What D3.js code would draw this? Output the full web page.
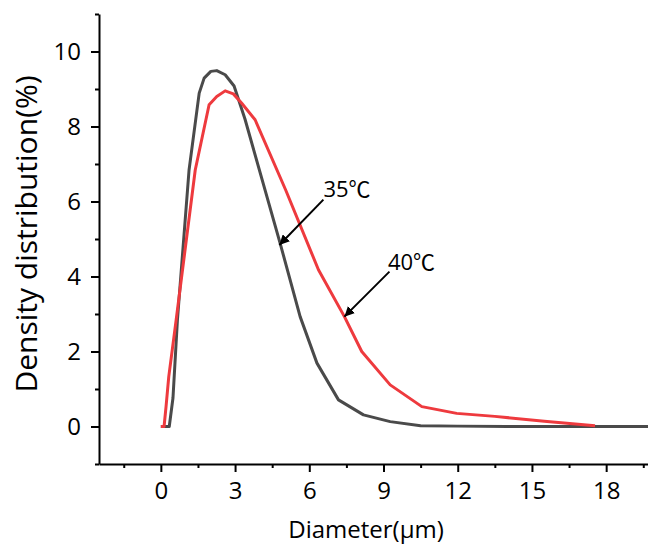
<!DOCTYPE html>
<html>
<head>
<meta charset="utf-8">
<script src="https://cdn.jsdelivr.net/npm/d3@7"></script>
<style>
  body { margin: 0; background: #fff; }
  svg { display: block; font-family: "Open Sans", "Noto Sans CJK SC", sans-serif; }
</style>
</head>
<body>
<svg></svg>
<script>
// data
var x35 = [0, 0.34, 0.49, 0.67, 1.14, 1.55, 1.75, 2.02, 2.26, 2.6, 2.96, 3.4, 4.82, 5.63, 6.31, 7.18, 8.19, 9.27, 10.5, 12, 14, 16, 18, 20];
var y35 = [0, 0, 0.76, 2.84, 6.84, 8.89, 9.29, 9.47, 9.49, 9.38, 9.08, 8.2, 4.89, 2.93, 1.69, 0.71, 0.31, 0.13, 0.02, 0.01, 0, 0, 0, 0];
var x40 = [0, 0.13, 0.21, 0.32, 0.62, 1.39, 1.95, 2.26, 2.6, 2.93, 3.27, 3.81, 5.05, 6.37, 7.42, 8.12, 9.27, 10.55, 11.96, 13.5, 15.5, 17.55];
var y40 = [0, 0, 0.53, 1.33, 2.85, 6.84, 8.58, 8.8, 8.95, 8.87, 8.62, 8.18, 6.3, 4.18, 2.93, 2.0, 1.11, 0.53, 0.35, 0.27, 0.14, 0.02];

var xMajor = [0, 3, 6, 9, 12, 15, 18];
var xMinor = [-1.5, 1.5, 4.5, 7.5, 10.5, 13.5, 16.5, 19.5];
var yMajor = [0, 2, 4, 6, 8, 10];
var yMinor = [-1, 1, 3, 5, 7, 9, 11];

// annotations: label, text position, arrow start, arrow tip (data units)
var noteLabels = ["35℃", "40℃"];
var noteText = [[6.57, 6.13], [9.18, 4.18]];
var noteFrom = [[6.57, 6.05], [9.24, 4.13]];
var noteTo = [[4.79, 4.84], [7.42, 2.93]];

var width = 648, height = 545;
var plotLeft = 99, plotTop = 14, plotBottom = 464;

var svg = d3.select("svg")
  .attr("width", width)
  .attr("height", height);

svg.append("rect").attr("width", width).attr("height", height).attr("fill", "#fff");

var x = d3.scaleLinear().domain([-2.5, 20]).range([plotLeft, plotLeft + 22.5 * 24.74]);
var y = d3.scaleLinear().domain([-1, 11]).range([plotBottom, plotTop]);

var defs = svg.append("defs");
defs.append("marker")
  .attr("id", "arrow")
  .attr("viewBox", "0 0 10 10")
  .attr("refX", 10).attr("refY", 5)
  .attr("markerWidth", 5).attr("markerHeight", 5)
  .attr("markerUnits", "strokeWidth")
  .attr("orient", "auto")
  .append("path")
  .attr("d", "M0,0 L10,5 L0,10 z")
  .attr("fill", "#000");

// minor ticks
svg.append("g")
  .attr("transform", "translate(0," + plotBottom + ")")
  .call(d3.axisBottom(x).tickValues(xMinor).tickSize(4).tickFormat(""))
  .call(g => g.select(".domain").remove());
svg.append("g")
  .attr("transform", "translate(" + plotLeft + ",0)")
  .call(d3.axisLeft(y).tickValues(yMinor).tickSize(4).tickFormat(""))
  .call(g => g.select(".domain").remove());

// major axes
svg.append("g")
  .attr("transform", "translate(0," + plotBottom + ")")
  .call(d3.axisBottom(x).tickValues(xMajor).tickSize(8).tickSizeOuter(0).tickPadding(10));
svg.append("g")
  .attr("transform", "translate(" + plotLeft + ",0)")
  .call(d3.axisLeft(y).tickValues(yMajor).tickSize(8).tickSizeOuter(0).tickPadding(10));

svg.selectAll(".tick line").attr("stroke", "#000").attr("stroke-width", 2);
svg.selectAll(".domain").attr("stroke", "#000").attr("stroke-width", 2);
svg.selectAll(".tick text")
  .attr("fill", "#000")
  .style("font-size", "24px")
  .style("font-family", "'Open Sans', sans-serif");

// lines
var line = d3.line()
  .x(function(d) { return x(d[0]); })
  .y(function(d) { return y(d[1]); });

var s35 = x35.map(function(v, i) { return [v, y35[i]]; });
var s40 = x40.map(function(v, i) { return [v, y40[i]]; });

svg.append("path")
  .datum(s35)
  .attr("d", line)
  .attr("fill", "none")
  .attr("stroke", "#4a4a4a")
  .attr("stroke-width", 3)
  .attr("stroke-linejoin", "round");

svg.append("path")
  .datum(s40)
  .attr("d", line)
  .attr("fill", "none")
  .attr("stroke", "#ee3a3e")
  .attr("stroke-width", 3)
  .attr("stroke-linejoin", "round");

// annotations
noteLabels.forEach(function(lab, i) {
  svg.append("line")
    .attr("x1", x(noteFrom[i][0])).attr("y1", y(noteFrom[i][1]))
    .attr("x2", x(noteTo[i][0])).attr("y2", y(noteTo[i][1]))
    .attr("stroke", "#000")
    .attr("stroke-width", 2)
    .attr("marker-end", "url(#arrow)");
  svg.append("text")
    .attr("x", x(noteText[i][0]))
    .attr("y", y(noteText[i][1]))
    .style("font-size", "22px")
    .text(lab);
});

// axis titles
svg.append("text")
  .attr("x", 366)
  .attr("y", 538)
  .attr("text-anchor", "middle")
  .style("font-size", "24px")
  .text("Diameter(μm)");

svg.append("text")
  .attr("transform", "translate(37,234) rotate(-90)")
  .attr("text-anchor", "middle")
  .style("font-size", "30px")
  .text("Density distribution(%)");
</script>
</body>
</html>
